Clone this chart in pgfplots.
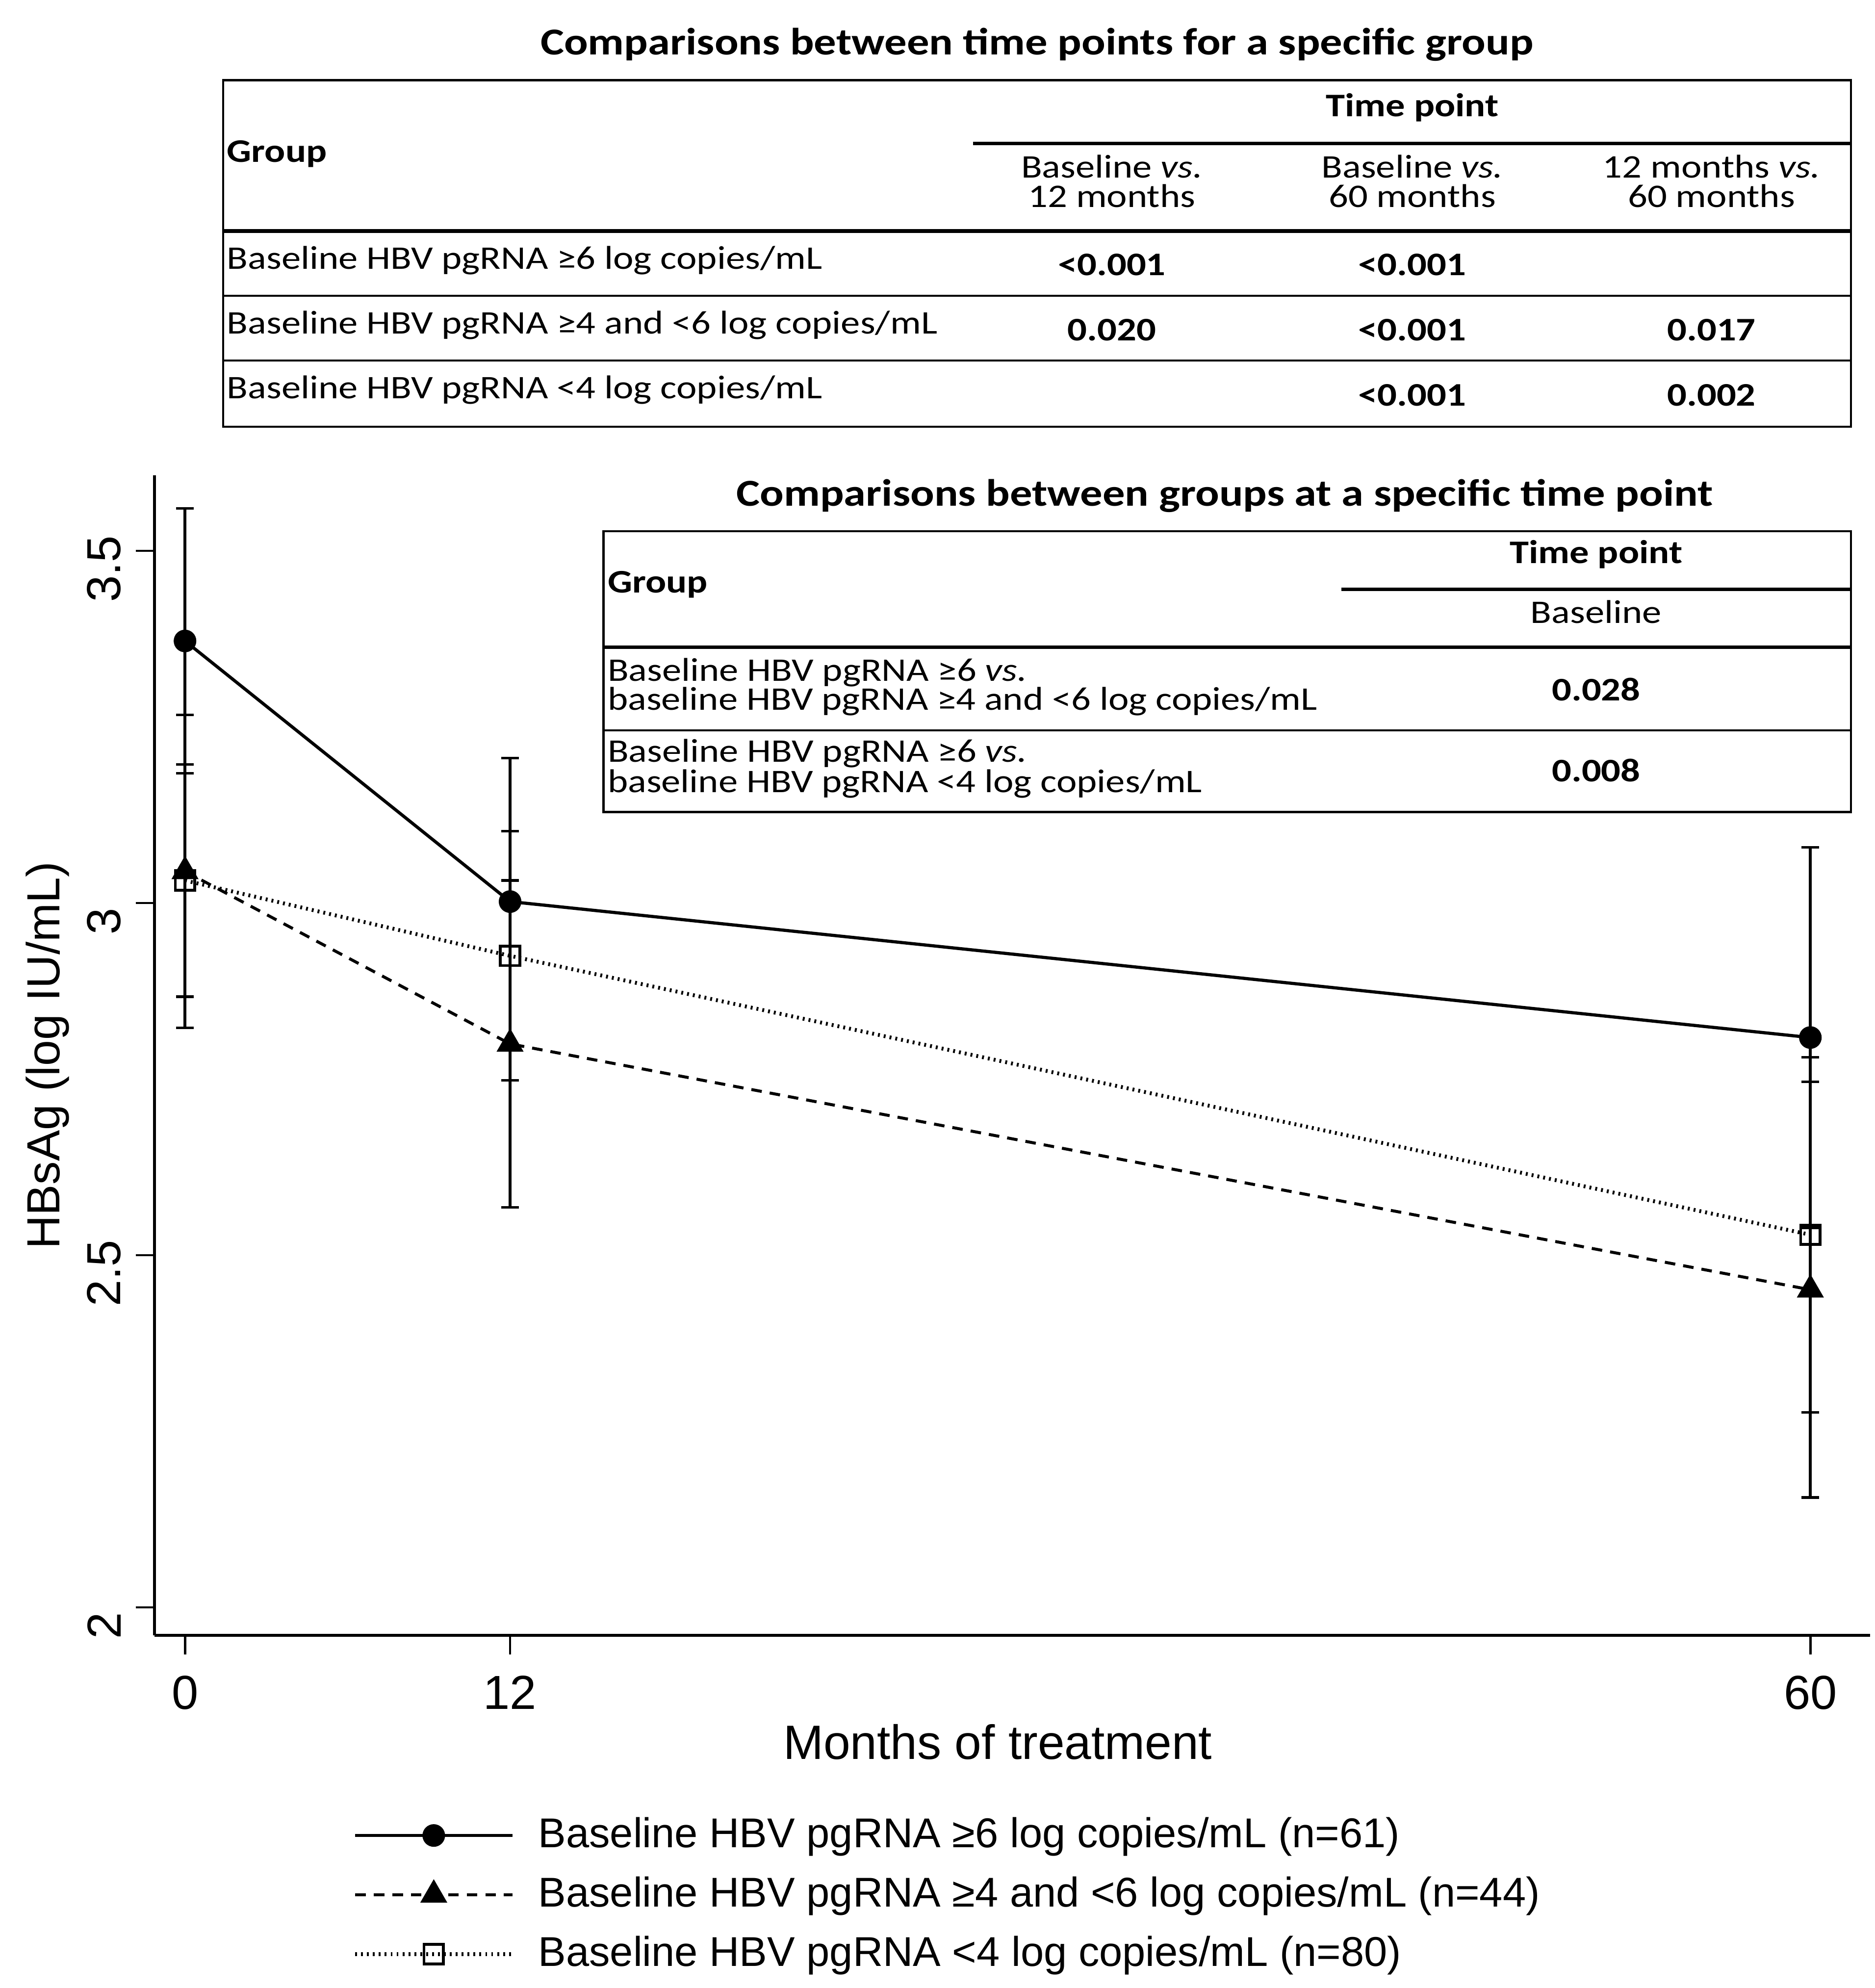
\documentclass[border=0pt]{standalone}
\usepackage{pgfplots}
\pgfplotsset{compat=1.18}
\usepackage{fontspec}
\setmainfont{Liberation Sans}
\newfontfamily\tabfont[FakeStretch=1.17]{Carlito}
\newcommand{\tb}{\tabfont\fontsize{7.8}{7.1}\selectfont}
\newcommand{\tbb}{\tabfont\bfseries\fontsize{7.8}{7.1}\selectfont}
\newcommand{\ttl}{\tabfont\bfseries\fontsize{9}{10}\selectfont}
\begin{document}
\begin{tikzpicture}
\path[use as bounding box] (0pt,0pt) rectangle (443.7pt,-470.4pt);
\begin{axis}[
 at={(36.6pt,-387pt)}, anchor=south west,
 scale only axis, width=405.9pt, height=274.5pt,
 xmin=-1.12, xmax=62.2, ymin=1.96, ymax=3.607,
 axis x line=bottom, axis y line=left,
 axis line style={-, line width=0.7pt},
 xtick={0,12,60}, ytick={2,2.5,3,3.5},
 tick align=outside, major tick length=4.5pt,
 tick style={line width=0.55pt, black},
 ticklabel style={font=\fontsize{11.3}{13}\selectfont},
 /pgf/number format/assume math mode=true,
 yticklabel style={rotate=90, anchor=south, xshift=-4.3pt},
 xticklabel style={yshift=-1.5pt},
 xlabel={Months of treatment}, ylabel={HBsAg (log IU/mL)},
 xlabel style={at={(axis description cs:0.4915,-0.0918)}, anchor=center, font=\fontsize{11.4}{13}\selectfont},
 ylabel style={at={(axis description cs:-0.0623,0.5)}, anchor=center, font=\fontsize{11}{13}\selectfont},
 legend style={at={(axis description cs:0.1153,-0.1486)}, anchor=north west, draw=none, fill=none,
   inner sep=0pt, row sep=1.4pt, font=\fontsize{9.85}{12}\selectfont,
   /tikz/every odd column/.append style={column sep=3.7pt}},
 legend cell align=left,
 legend image code/.code={\draw[mark repeat=2, mark phase=2] plot coordinates {(0pt,0pt) (18.6pt,0pt) (37.2pt,0pt)};},
 every axis plot/.append style={black, line width=0.75pt},
 error bars/y dir=both, error bars/y explicit,
 error bars/error bar style={line width=0.7pt, solid},
 error bars/error mark options={rotate=90, mark size=2.1pt, line width=0.6pt, solid},
]
\addplot[black, solid, line width=0.75pt, mark=*, mark size=2.3pt, mark options={solid}]
 coordinates {(0,3.372) +- (0,0.188) (12,3.002) +- (0,0.204) (60,2.809) +- (0,0.270)};
\addlegendentry{Baseline HBV pgRNA ≥6 log copies/mL (n=61)}
\addplot[black, line width=0.7pt, dash pattern=on 2.5pt off 1.9pt, mark=triangle*, mark size=3pt, mark options={solid}]
 coordinates {(0,3.045) +- (0,0.222) (12,2.800) +- (0,0.232) (60,2.451) +- (0,0.295)};
\addlegendentry{Baseline HBV pgRNA ≥4 and <6 log copies/mL (n=44)}
\addplot[black, dash pattern=on 0.45pt off 0.95pt, line width=0.9pt, mark=square, mark size=2.3pt, mark options={solid, line width=0.65pt}]
 coordinates {(0,3.032) +- (0,0.165) (12,2.925) +- (0,0.177) (60,2.529) +- (0,0.252)};
\addlegendentry{Baseline HBV pgRNA <4 log copies/mL (n=80)}
\end{axis}
\begin{scope}[x=0.3pt, y=-0.3pt]
% table 1
\node[font=\ttl, anchor=base] at (818,43.3) {Comparisons between time points for a specific group};
\draw[line width=0.55pt] (176,63.4) rectangle (1460,336.6);
\draw[line width=0.8pt] (767.5,113.3) -- (1460,113.3);
\draw[line width=0.9pt] (176,182.2) -- (1460,182.2);
\draw[line width=0.55pt] (176,233.3) -- (1460,233.3);
\draw[line width=0.55pt] (176,284.4) -- (1460,284.4);
\node[font=\tbb, anchor=base] at (1114,92) {Time point};
\node[font=\tbb, anchor=base west, inner sep=0pt] at (178.4,128) {Group};
\node[font=\tb, anchor=base] at (877,140.4) {Baseline \textit{vs.}};
\node[font=\tb, anchor=base] at (877,163.3) {12 months};
\node[font=\tb, anchor=base] at (1114,140.4) {Baseline \textit{vs.}};
\node[font=\tb, anchor=base] at (1114,163.3) {60 months};
\node[font=\tb, anchor=base] at (1350,140.4) {12 months \textit{vs.}};
\node[font=\tb, anchor=base] at (1350,163.3) {60 months};
\node[font=\tb, anchor=base west, inner sep=0pt] at (178.4,212.2) {Baseline HBV pgRNA ≥6 log copies/mL};
\node[font=\tb, anchor=base west, inner sep=0pt] at (178.4,263.3) {Baseline HBV pgRNA ≥4 and <6 log copies/mL};
\node[font=\tb, anchor=base west, inner sep=0pt] at (178.4,314.4) {Baseline HBV pgRNA <4 log copies/mL};
\node[font=\tbb, anchor=base] at (877,217.3) {<0.001};
\node[font=\tbb, anchor=base] at (1114,217.3) {<0.001};
\node[font=\tbb, anchor=base] at (877,268.8) {0.020};
\node[font=\tbb, anchor=base] at (1114,268.8) {<0.001};
\node[font=\tbb, anchor=base] at (1350,268.8) {0.017};
\node[font=\tbb, anchor=base] at (1114,320) {<0.001};
\node[font=\tbb, anchor=base] at (1350,320) {0.002};
% table 2
\node[font=\ttl, anchor=base] at (966,399) {Comparisons between groups at a specific time point};
\draw[line width=0.55pt, fill=white] (476,419) rectangle (1460,640.5);
\draw[line width=0.8pt] (1058,464.8) -- (1460,464.8);
\draw[line width=0.9pt] (476,510.5) -- (1460,510.5);
\draw[line width=0.55pt] (476,576) -- (1460,576);
\node[font=\tbb, anchor=base] at (1259,444.5) {Time point};
\node[font=\tbb, anchor=base west, inner sep=0pt] at (478.7,467.5) {Group};
\node[font=\tb, anchor=base] at (1259,491.5) {Baseline};
\node[font=\tb, anchor=base west, inner sep=0pt] at (478.7,537) {Baseline HBV pgRNA ≥6 \textit{vs.}};
\node[font=\tb, anchor=base west, inner sep=0pt] at (478.7,560) {baseline HBV pgRNA ≥4 and <6 log copies/mL};
\node[font=\tbb, anchor=base] at (1259,552.7) {0.028};
\node[font=\tb, anchor=base west, inner sep=0pt] at (478.7,600.9) {Baseline HBV pgRNA ≥6 \textit{vs.}};
\node[font=\tb, anchor=base west, inner sep=0pt] at (478.7,625) {baseline HBV pgRNA <4 log copies/mL};
\node[font=\tbb, anchor=base] at (1259,616.5) {0.008};
\end{scope}
\end{tikzpicture}
\end{document}
